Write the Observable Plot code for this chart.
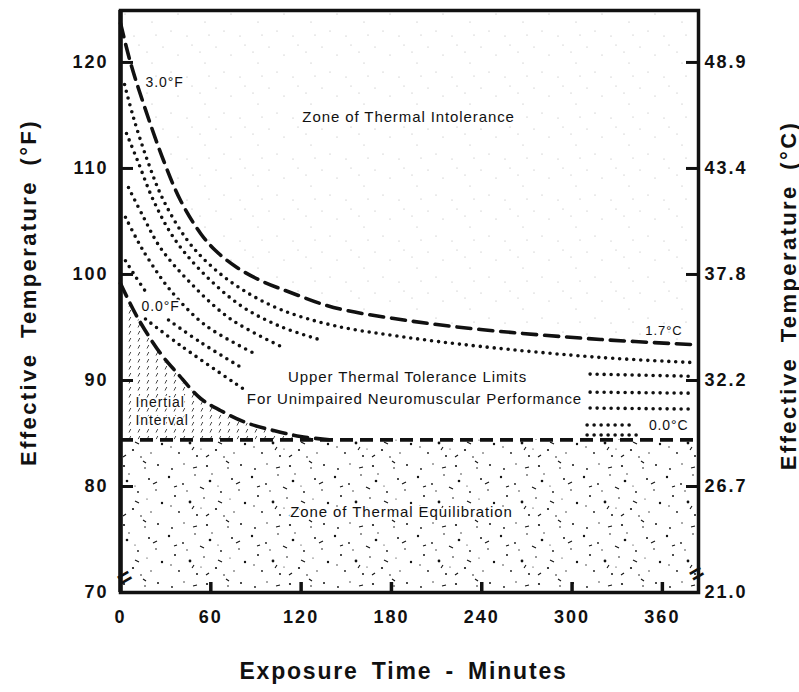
<!DOCTYPE html>
<html><head><meta charset="utf-8">
<script src="https://cdn.jsdelivr.net/npm/d3@7"></script>
<script src="https://cdn.jsdelivr.net/npm/@observablehq/plot@0.6"></script>
<style>
body{margin:0;background:#fff;}
#chart svg{display:block;}
</style></head><body><div id="chart"></div>
<script>
// ---- axis ticks ----
const xTicks = [0, 60, 120, 180, 240, 300, 360];
const fTicks = [70, 80, 90, 100, 110, 120];
const cLabels = ["21.0", "26.7", "32.2", "37.8", "43.4", "48.9"];

// ---- curves: [minutes, effective temperature °F] ----
const limit30F = [[0,123.7],[6.6,120.0],[15.3,116.1],[28.6,110.75],[39.9,106.98],[53.2,103.87],[63.1,102.26],[76.4,100.75],[93.0,99.43],[113.0,98.30],[141.5,96.89],[186.0,95.75],[239.2,94.81],[318.9,93.87],[378.7,93.40]];
const limit00F = [[0,99.15],[11.3,95.94],[26.6,92.55],[37.9,90.66],[53.2,88.30],[66.4,87.17],[83.1,86.04],[101.7,85.28],[119.6,84.72],[139.5,84.4]];
const equilibrationF = 84.4;

const iso1 = [[2.7,117.92],[8.6,114.81],[17.9,110.75],[28.6,106.98],[44.5,103.21],[59.8,100.85],[79.7,98.68],[106.3,96.70],[141.5,95.19],[186.0,94.15],[239.2,93.21],[318.9,92.17],[378.7,91.70]];
const iso2 = [[4.0,113.30],[11.3,110.75],[21.9,106.98],[35.2,103.49],[53.2,100.38],[79.7,97.08],[106.3,95.09],[134.2,93.77]];
const iso2Right = [[312,90.6],[379,90.4]];
const iso3 = [[5.3,108.2],[15.3,105.4],[26.6,102.5],[46.5,99.2],[73.1,95.8],[108.3,93.1]];
const iso3Right = [[312,88.9],[379,88.8]];
const iso4 = [[3.3,105.4],[11.3,103.2],[17.9,101.6],[33.2,98.5],[56.5,95.2],[89.7,92.5]];
const iso4Right = [[312,87.4],[379,87.3]];
const iso5a = [[3.3,101.3],[10.0,99.8],[16.6,98.4]];
const iso5b = [[31.9,95.7],[53.2,93.6],[81.7,91.1]];
const iso5Right = [[310,85.8],[340,85.8]];
const iso6 = [[16.6,95.8],[39.9,93.3],[81.7,89.2]];
const iso6Right = [[310,84.85],[345,84.85]];

// ---- annotations ----
const annotations = [
  {text:"Zone of Thermal Intolerance", t:191.4, F:114.8, size:15, anchor:"middle"},
  {text:"Upper Thermal Tolerance Limits", t:190.7, F:90.3, size:15, anchor:"middle"},
  {text:"For Unimpaired Neuromuscular Performance", t:195.3, F:88.2, size:15, anchor:"middle"},
  {text:"Zone of Thermal Equilibration", t:186.7, F:77.6, size:15, anchor:"middle"},
  {text:"3.0°F", t:16.6, F:118.1, size:14, anchor:"start"},
  {text:"0.0°F", t:14, F:97.0, size:14, anchor:"start"},
  {text:"1.7°C", t:373.4, F:94.7, size:13, anchor:"end"},
  {text:"0.0°C", t:377.4, F:85.75, size:14, anchor:"end"},
  {text:"Inertial", t:10, F:87.9, size:14, anchor:"start"},
  {text:"Interval", t:10, F:86.2, size:14, anchor:"start"}
];
const titles = ["Exposure Time - Minutes", "Effective Temperature (°F)", "Effective Temperature (°C)"];

const xMax = 384, yMax = 124.9;
const pts = (arr, seg) => arr.map(([t, F]) => ({t, F, seg}));
const dotted = [
  ...pts(iso1,"1"), ...pts(iso2,"2"), ...pts(iso2Right,"2r"), ...pts(iso3,"3"), ...pts(iso3Right,"3r"),
  ...pts(iso4,"4"), ...pts(iso4Right,"4r"), ...pts(iso5a,"5a"), ...pts(iso5b,"5b"), ...pts(iso5Right,"5r"),
  ...pts(iso6,"6"), ...pts(iso6Right,"6r")
];
const upper = pts(limit30F, "u");
const lower = pts(limit00F, "l");
const font = "'Liberation Sans', Arial, Helvetica, sans-serif";
const frameW = 799 - 120 - 101, frameH = 692 - 10 - 100;
const annText = anchor => Plot.text(annotations.filter(d => d.anchor === anchor),
  {x: "t", y: "F", text: "text", fontSize: d => d.size, textAnchor: anchor, fill: "#111",
   stroke: "#fff", strokeWidth: 3, paintOrder: "stroke"});

const plot = Plot.plot({
  width: 799, height: 692,
  marginLeft: 120, marginRight: 101, marginTop: 10, marginBottom: 100,
  x: {domain: [0, xMax], label: null},
  y: {domain: [70, yMax], label: null},
  style: {fontFamily: font, color: "#111", background: "#fff", overflow: "visible"},
  marks: [
    Plot.rect([{lo: 70, hi: equilibrationF}], {x1: 0, x2: xMax, y1: "lo", y2: "hi", fill: "url(#speck)"}),
    Plot.areaY(upper, {x: "t", y1: "F", y2: yMax, fill: "url(#stipple)", curve: "catmull-rom"}),
    Plot.areaY(lower, {x: "t", y1: equilibrationF, y2: "F", fill: "url(#hatch)", curve: "catmull-rom"}),
    Plot.line(dotted, {x: "t", y: "F", z: "seg", stroke: "#111", strokeWidth: 3.6, strokeDasharray: "0,7", strokeLinecap: "round", curve: "catmull-rom"}),
    Plot.line(upper, {x: "t", y: "F", stroke: "#111", strokeWidth: 3.6, strokeDasharray: "14,8", curve: "catmull-rom"}),
    Plot.line(lower, {x: "t", y: "F", stroke: "#111", strokeWidth: 3.6, strokeDasharray: "14,8", curve: "catmull-rom"}),
    Plot.ruleY([equilibrationF], {stroke: "#111", strokeWidth: 3.6, strokeDasharray: "13,7"}),
    Plot.frame({stroke: "#111", strokeWidth: 3.5}),
    Plot.ruleX([0], {stroke: "#111", strokeWidth: 4.5}),
    // inward tick marks
    Plot.tickY(fTicks.slice(1), {y: d => d, insetRight: frameW - 13, strokeWidth: 3, stroke: "#111"}),
    Plot.tickY(fTicks.slice(1), {y: d => d, insetLeft: frameW - 12, strokeWidth: 3, stroke: "#111"}),
    Plot.tickX(xTicks.slice(1), {x: d => d, insetTop: frameH - 10, strokeWidth: 3.5, stroke: "#111"}),
    // tick labels
    Plot.axisY(fTicks, {anchor: "left", tickSize: 0, tickPadding: 12, fontSize: 18, fontWeight: "bold", label: null}),
    Plot.axisY(fTicks, {anchor: "right", tickSize: 0, tickPadding: 6, fontSize: 18, fontWeight: "bold", tickFormat: d => cLabels[fTicks.indexOf(d)], label: null}),
    Plot.axisX(xTicks, {anchor: "bottom", tickSize: 0, tickPadding: 18, fontSize: 18, fontWeight: "bold", label: null}),
    // annotations
    annText("middle"), annText("start"), annText("end"),
    // axis titles
    Plot.text([titles[0]], {frameAnchor: "bottom", textAnchor: "middle", dx: -6, dy: 86, fontSize: 23, fontWeight: "bold", fill: "#111"}),
    Plot.text([titles[1]], {frameAnchor: "left", textAnchor: "middle", dx: -92, dy: -9, rotate: -90, fontSize: 22, fontWeight: "bold", fill: "#111"}),
    Plot.text([titles[2]], {frameAnchor: "right", textAnchor: "middle", dx: 90, dy: -6, rotate: -90, fontSize: 22, fontWeight: "bold", fill: "#111"}),
    // axis breaks
    Plot.text(["="], {frameAnchor: "bottom-left", textAnchor: "middle", dx: 8, dy: -8, rotate: -30, fontSize: 24, fontWeight: "bold", fill: "#111"}),
    Plot.text(["="], {frameAnchor: "bottom-right", textAnchor: "middle", dx: 2, dy: -12, rotate: -30, fontSize: 24, fontWeight: "bold", fill: "#111"})
  ]
});

const svg = d3.select(plot);
const defs = svg.insert("defs", ":first-child");
// hatch for inertial interval
const hatch = defs.append("pattern").attr("id", "hatch").attr("patternUnits", "userSpaceOnUse").attr("width", 9).attr("height", 7);
hatch.append("path").attr("d", "M3,5.5 L4.8,2").attr("stroke", "#333").attr("stroke-width", 0.9);
// speckle for equilibration zone
const speck = defs.append("pattern").attr("id", "speck").attr("patternUnits", "userSpaceOnUse").attr("width", 83).attr("height", 59);
[[3,5,1.2],[17,12,0.9],[29,3,0.8],[44,9,1.3],[55,20,0.9],[9,24,1.0],[24,30,1.4],[38,26,0.8],[50,37,1.1],[13,40,0.9],[31,43,1.0],[58,44,0.8],[5,34,0.7],[46,2,0.7],[21,19,0.7],[35,36,0.6],[52,14,0.6],
 [66,7,1.0],[73,18,0.8],[79,31,1.2],[68,40,0.7],[75,52,1.0],[62,55,0.8],[41,53,1.1],[18,51,0.7],[6,56,0.9],[64,27,0.6]]
  .forEach(([cx, cy, r]) => speck.append("circle").attr("cx", cx).attr("cy", cy).attr("r", r).attr("fill", "#111"));
[[34,15,38,17],[8,15,11,14],[52,29,56,31],[26,37,28,34],[40,44,43,42],[70,12,74,10],[60,48,63,50],[27,55,31,54]].forEach(([a,b,c,d]) =>
  speck.append("path").attr("d", `M${a},${b}L${c},${d}`).attr("stroke", "#111").attr("stroke-width", 1.1));
// faint stipple for intolerance zone
const stip = defs.append("pattern").attr("id", "stipple").attr("patternUnits", "userSpaceOnUse").attr("width", 53).attr("height", 41);
[[4,6],[19,14],[33,4],[46,22],[12,31],[28,36],[41,11],[50,35]].forEach(([cx, cy]) =>
  stip.append("circle").attr("cx", cx).attr("cy", cy).attr("r", 0.55).attr("fill", "#aaa"));

// spacing
const annSet = new Set(annotations.map(d => d.text));
svg.selectAll("text").each(function() {
  const s = this.textContent;
  if (annSet.has(s)) this.style.letterSpacing = "0.9px";
  else if (s === titles[0]) { this.style.letterSpacing = "1.8px"; this.style.wordSpacing = "5px"; }
  else if (s === titles[1] || s === titles[2]) { this.style.letterSpacing = "2.4px"; this.style.wordSpacing = "6px"; }
});
svg.selectAll('g[aria-label$="tick label"] text').style("letter-spacing", "2px");

document.getElementById("chart").appendChild(plot);
</script></body></html>
